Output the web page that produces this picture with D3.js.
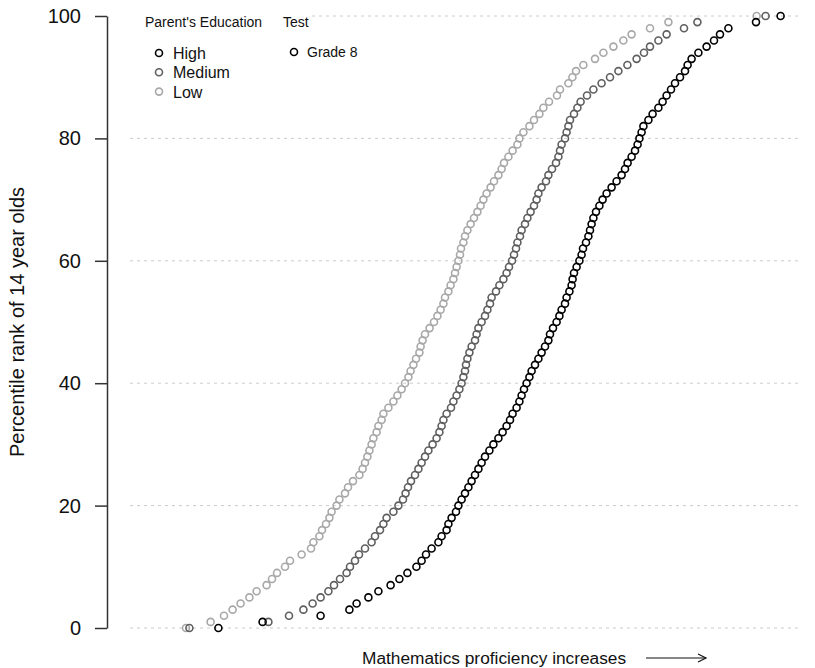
<!DOCTYPE html>
<html>
<head>
<meta charset="utf-8">
<script src="https://cdn.jsdelivr.net/npm/d3@7"></script>
<style>
  body { margin: 0; background: #fff; }
  svg { display: block; font-family: "Liberation Sans", Arial, Helvetica, sans-serif; }
</style>
</head>
<body>
<div id="chart"></div>
<script>
// Percentile ranks 0..100
const percentiles = d3.range(0, 101);

// Proficiency scores (arbitrary units) at each percentile rank, by parent's education
const lowScores = [
  43, 55.3, 62, 66.3, 70.3, 74.7, 78.3, 83.3, 86, 88.5,
  92.5, 95, 100.8, 105.5, 106.7, 109.7, 111, 113, 114.7, 115.8,
  118.3, 119.7, 122.5, 124, 126.5, 129.7, 131.3, 132.5, 133.7, 134.7,
  135.8, 136.7, 138.3, 139.2, 140.8, 141.7, 144.2, 146.7, 148.7, 150.8,
  152.5, 154.2, 155.3, 156.7, 158, 159.7, 160.3, 161.3, 162.5, 164.8,
  167, 168.7, 170.3, 171.7, 172.5, 174.2, 175.3, 176.7, 177.5, 178.3,
  179.2, 180, 180.5, 181.7, 182.5, 183.7, 185.3, 187, 188.7, 190.3,
  191.7, 193.3, 195.3, 197, 199.2, 200.8, 202, 204.2, 206.3, 208.7,
  209.7, 211.7, 214.7, 217, 219.7, 221.7, 224.5, 228.5, 230, 234.2,
  236.2, 238, 241.7, 247.5, 251.7, 256.7, 261.7, 265.8, 275, 284.2,
  328.3
];
const mediumScores = [
  44.7, 84.2, 94.5, 101.7, 106.3, 110.3, 114.2, 117, 120, 123.3,
  125, 127.5, 129.5, 132.5, 135.8, 137.5, 140, 141.7, 143.3, 146.7,
  149.2, 151.5, 152.8, 154, 155.5, 157.5, 159.2, 160.8, 162.5, 164.2,
  166.3, 168.3, 169.7, 170.8, 171.7, 173.3, 175.5, 176.7, 178.3, 179.7,
  180.8, 181.7, 182.5, 183, 183.7, 184.7, 185.8, 187.5, 188.3, 189.2,
  190.8, 192.5, 193.7, 195, 195.8, 198, 199.7, 201.7, 203.3, 204.5,
  206, 207, 208, 208.7, 210, 210.8, 212.5, 213.7, 215.3, 217,
  218.3, 219.2, 220.8, 223, 224.2, 226, 228, 229.2, 230, 230.8,
  232.5, 233.3, 234.2, 235, 237, 238.7, 240.3, 243.5, 246.7, 250.8,
  255, 259.2, 263.7, 268.3, 272, 275, 279.2, 283.3, 292, 298.7,
  332.8
];
const highScores = [
  59.2, 81.3, 110.3, 124.7, 128.3, 134.2, 139.2, 145.3, 149.7, 153.7,
  158.2, 160.8, 163, 165.8, 169.2, 170.8, 173.3, 174.2, 175.8, 178,
  179.2, 180.8, 182.5, 184.2, 185.8, 187.5, 189.2, 190.8, 192.5, 194.7,
  196.7, 199.2, 201.3, 203.3, 205, 206.3, 208.3, 209.7, 210.8, 212,
  213.3, 214.7, 215.8, 217.5, 219.2, 220.8, 222.5, 224.2, 225, 226.5,
  228.3, 229.7, 230.8, 232.5, 233.3, 234.7, 235.8, 236.3, 237, 238.3,
  239.7, 240.8, 241.5, 243, 244.2, 245, 245.8, 246.7, 248, 249.7,
  251.3, 253.3, 255.8, 258.3, 260.8, 262.5, 263.8, 265.8, 267.5, 268.8,
  269.7, 270.8, 271.7, 274.2, 276.3, 279.2, 281.3, 283.3, 285.5, 287.5,
  290, 292.5, 293.8, 295.8, 299.2, 303.3, 307, 310, 314.2, 328,
  340.3
];

const seriesNames = ["High", "Medium", "Low"];
const seriesScores = [highScores, mediumScores, lowScores];
const seriesColors = ["#000000", "#5f5f5f", "#a8a8a8"];
const yTicks = [0, 20, 40, 60, 80, 100];
const legendTitle = "Parent's Education";
const testTitle = "Test";
const testItems = ["Grade 8"];
const yTitle = "Percentile rank of 14 year olds";
const xTitle = "Mathematics proficiency increases";

const W = 815, H = 668;
const svg = d3.select("#chart").append("svg").attr("width", W).attr("height", H);

const x = d3.scaleLinear().domain([0, 350]).range([100, 800]);
const y = d3.scaleLinear().domain([0, 100]).range([628, 16]);

// grid lines
svg.append("g").selectAll("line").data(yTicks).join("line")
  .attr("x1", 130).attr("x2", 800)
  .attr("y1", d => y(d)).attr("y2", d => y(d))
  .attr("stroke", "#cccccc").attr("stroke-width", 1)
  .attr("stroke-dasharray", "3,4");

// y axis
const yAxis = d3.axisLeft(y).tickValues(yTicks).tickSize(12).tickSizeOuter(0).tickPadding(14);
const gy = svg.append("g").attr("transform", "translate(107,0)").call(yAxis);
gy.select(".domain").attr("stroke", "#333").attr("stroke-width", 1.5);
gy.selectAll(".tick line").attr("stroke", "#333").attr("stroke-width", 1.5);
gy.selectAll(".tick text").attr("font-size", 20).attr("fill", "#111")
  .attr("font-family", "'Liberation Sans', Arial, sans-serif");

// y title
svg.append("text")
  .attr("transform", `translate(24,${(y(0) + y(100)) / 2}) rotate(-90)`)
  .attr("text-anchor", "middle")
  .attr("font-size", 20).attr("fill", "#111")
  .text(yTitle);

// x title + arrow
svg.append("text")
  .attr("x", 362).attr("y", 664)
  .attr("font-size", 17.3).attr("fill", "#111")
  .text(xTitle);
svg.append("line").attr("x1", 646).attr("x2", 706).attr("y1", 658).attr("y2", 658)
  .attr("stroke", "#111").attr("stroke-width", 1.2);
svg.append("path").attr("d", "M698,654 L706,658 L698,662")
  .attr("fill", "none").attr("stroke", "#111").attr("stroke-width", 1.2);

// points: draw Low first, then Medium, then High
const order = [2, 1, 0];
order.forEach(i => {
  svg.append("g").selectAll("circle")
    .data(percentiles.map(p => ({ p, v: seriesScores[i][p] })))
    .join("circle")
    .attr("cx", d => x(d.v)).attr("cy", d => y(d.p))
    .attr("r", 3.5)
    .attr("fill", "none")
    .attr("stroke", seriesColors[i])
    .attr("stroke-width", 1.6);
});

// legend
const lg = svg.append("g");
lg.append("rect").attr("x", 120).attr("y", 4).attr("width", 192).attr("height", 96).attr("fill", "#fff");
lg.append("text").attr("x", 145).attr("y", 27).attr("font-size", 14).attr("fill", "#111").text(legendTitle);
lg.append("text").attr("x", 283).attr("y", 27).attr("font-size", 14).attr("fill", "#111").text(testTitle);
seriesNames.forEach((n, i) => {
  const yy = 53 + i * 19.3;
  lg.append("circle").attr("cx", 159).attr("cy", yy).attr("r", 3.5)
    .attr("fill", "none").attr("stroke", seriesColors[i]).attr("stroke-width", 1.6);
  lg.append("text").attr("x", 173).attr("y", yy + 6).attr("font-size", 16).attr("fill", "#111").text(n);
});
testItems.forEach((n, i) => {
  const yy = 52 + i * 19.3;
  lg.append("circle").attr("cx", 294).attr("cy", yy).attr("r", 3.5)
    .attr("fill", "none").attr("stroke", "#000").attr("stroke-width", 1.6);
  lg.append("text").attr("x", 307).attr("y", yy + 5).attr("font-size", 14).attr("fill", "#111").text(n);
});
</script>
</body>
</html>
